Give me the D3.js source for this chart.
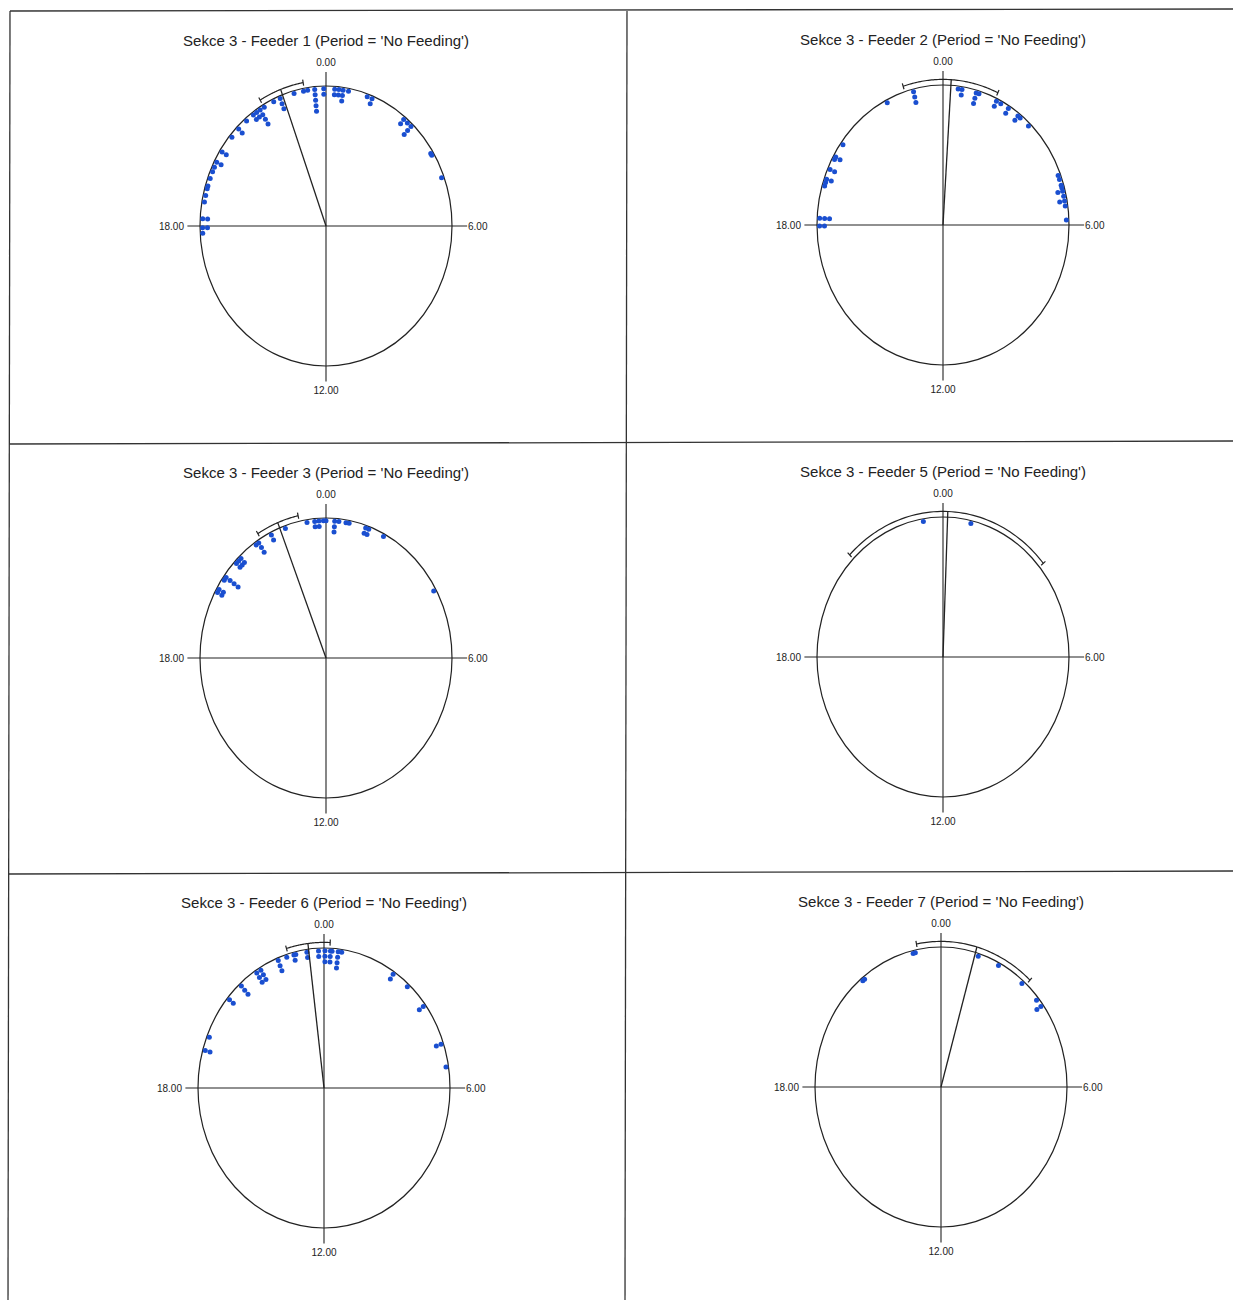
<!DOCTYPE html>
<html>
<head>
<meta charset="utf-8">
<script src="https://cdn.jsdelivr.net/npm/d3@7"></script>
<style>
  html, body { margin: 0; padding: 0; background: #fff; }
  svg { display: block; }
  text { font-family: "Liberation Sans", Arial, sans-serif; fill: #222; }
</style>
</head>
<body>
<svg id="chart" width="1233" height="1300"></svg>
<script>
// Panel titles, in reading order
const titles = [
  "Sekce 3 - Feeder 1 (Period = 'No Feeding')",
  "Sekce 3 - Feeder 2 (Period = 'No Feeding')",
  "Sekce 3 - Feeder 3 (Period = 'No Feeding')",
  "Sekce 3 - Feeder 5 (Period = 'No Feeding')",
  "Sekce 3 - Feeder 6 (Period = 'No Feeding')",
  "Sekce 3 - Feeder 7 (Period = 'No Feeding')"
];

// Visit times (hour of day); equal values stack inward from the rim
const feeder1 = [17.8, 17.95, 17.95, 18.2, 18.2, 18.67, 18.86, 19.05, 19.13, 19.35, 19.55, 19.69,
  19.85, 19.85, 20.18, 20.18, 20.69, 21.0, 21.0, 21.33, 21.6, 21.6, 21.72, 21.72, 21.85, 21.85,
  21.85, 21.85, 22.0, 22.33, 22.55, 22.55, 22.55, 23.0, 23.3, 23.43, 23.65, 23.65, 23.65, 23.65,
  23.65, 23.93, 23.93, 0.27, 0.27, 0.4, 0.4, 0.53, 0.53, 0.53, 0.7, 1.3, 1.46, 1.46, 2.6, 2.6,
  2.75, 2.9, 2.9, 2.9, 3.87, 3.93, 4.63];
const feeder2 = [17.97, 17.97, 18.19, 18.19, 18.19, 19.1, 19.2, 19.3, 19.3, 19.59, 19.59, 19.9,
  19.98, 19.98, 20.39, 22.21, 23.08, 23.08, 23.08, 0.47, 0.59, 0.59, 1.04, 1.04, 1.04, 1.13,
  1.71, 1.71, 1.86, 2.13, 2.13, 2.49, 2.49, 2.58, 2.92, 4.59, 4.71, 4.88, 4.95, 5.05, 5.05,
  5.19, 5.33, 5.33, 5.47, 5.86];
const feeder3 = [19.9, 19.9, 20.0, 20.0, 20.3, 20.4, 20.4, 20.4, 20.4, 20.9, 20.9, 21.0, 21.0,
  21.1, 21.1, 21.7, 21.8, 21.8, 21.8, 22.25, 22.25, 22.72, 23.41, 23.65, 23.65, 23.78, 23.78,
  23.92, 0.0, 0.27, 0.27, 0.27, 0.4, 0.62, 0.72, 1.25, 1.25, 1.35, 1.35, 1.85, 4.05];
const feeder5 = [23.39, 0.87];
const feeder6 = [19.06, 19.06, 19.45, 20.67, 20.67, 21.2, 21.2, 21.2, 21.8, 21.8, 21.8, 21.95,
  21.95, 21.95, 22.55, 22.55, 22.55, 22.83, 23.06, 23.06, 23.12, 23.47, 23.47, 23.83, 23.83,
  0.03, 0.03, 0.03, 0.2, 0.2, 0.2, 0.25, 0.44, 0.44, 0.44, 0.44, 0.55, 2.27, 2.27, 2.83, 3.57,
  3.57, 4.76, 4.76, 5.41];
const feeder7 = [21.38, 21.45, 23.13, 23.2, 1.17, 1.85, 2.73, 3.38, 3.6, 3.6];

const visitTimes = [feeder1, feeder2, feeder3, feeder5, feeder6, feeder7];

// Mean direction (hour) and its 95% confidence limits
const meanHour = [22.65, 0.24, 22.56, 0.14, 23.53, 1.06];
const ciLow    = [21.99, 22.82, 21.91, 20.97, 22.89, 23.28];
const ciHigh   = [23.33, 1.65, 23.18, 3.33, 0.18, 2.85];

// Clock labels at the four axis ends
const tickHours  = [0, 6, 12, 18];
const tickLabels = ["0.00", "6.00", "12.00", "18.00"];

const svg = d3.select("#chart");
const ink = "#222";
const dotColor = "#1a4fd0";

// Panel frame lines
const frame = [
  [10, 11, 1233, 9], [9, 444, 1233, 441], [8, 874, 1233, 871],
  [10, 11, 8, 1300], [627, 11, 625, 1300]
];
svg.append("g").selectAll("line").data(frame).join("line")
  .attr("x1", d => d[0]).attr("y1", d => d[1])
  .attr("x2", d => d[2]).attr("y2", d => d[3])
  .attr("stroke", "#333").attr("stroke-width", 1.3);

// Plot centres and radii (the rose is drawn slightly taller than wide)
const centres = [[326, 226], [943, 225], [326, 658], [943, 657], [324, 1088], [941, 1087]];
const rx = 126, ry = 140;

// Clock hour -> angle (clockwise from top)
const angle = d3.scaleLinear().domain([0, 24]).range([0, 2 * Math.PI]);
// Relative radius -> pixel (applied separately to x and y radii)
const rX = d3.scaleLinear().domain([0, 1]).range([0, rx]);
const rY = d3.scaleLinear().domain([0, 1]).range([0, ry]);

const dotStep = 5.2 / 133;   // radial spacing of stacked dots, relative
const dotStart = 2.7 / 133;  // first dot just inside the rim
const ciRadius = 1.04;

centres.forEach(([cx, cy], i) => {
  const g = svg.append("g");
  const pt = (h, f) => [cx + rX(f) * Math.sin(angle(h)), cy - rY(f) * Math.cos(angle(h))];

  // Title
  g.append("text")
    .attr("x", cx).attr("y", cy - 180)
    .attr("text-anchor", "middle")
    .attr("font-size", 15)
    .attr("textLength", 286).attr("lengthAdjust", "spacingAndGlyphs")
    .text(titles[i]);

  // Axes through the centre
  g.append("line").attr("x1", cx).attr("x2", cx)
    .attr("y1", cy - rY(1.1)).attr("y2", cy + rY(1.11))
    .attr("stroke", ink).attr("stroke-width", 1.1);
  g.append("line").attr("y1", cy).attr("y2", cy)
    .attr("x1", cx - rX(1.1)).attr("x2", cx + rX(1.12))
    .attr("stroke", ink).attr("stroke-width", 1.1);

  // Rim
  g.append("ellipse").attr("cx", cx).attr("cy", cy)
    .attr("rx", rX(1)).attr("ry", rY(1))
    .attr("fill", "none").attr("stroke", ink).attr("stroke-width", 1.2);

  // Hour labels
  tickHours.forEach((h, k) => {
    const t = g.append("text").attr("font-size", 10).text(tickLabels[k]);
    if (h === 0) t.attr("x", cx).attr("y", cy - 160).attr("text-anchor", "middle");
    else if (h === 12) t.attr("x", cx).attr("y", cy + 168).attr("text-anchor", "middle");
    else if (h === 6) t.attr("x", cx + 142).attr("y", cy + 3.5).attr("text-anchor", "start");
    else t.attr("x", cx - 142).attr("y", cy + 3.5).attr("text-anchor", "end");
  });

  // Stacked visit dots
  const stacks = d3.group(visitTimes[i], d => d);
  const dots = [];
  stacks.forEach((vals, h) => vals.forEach((v, j) => dots.push({ h, j })));
  g.append("g").selectAll("circle").data(dots).join("circle")
    .attr("cx", d => pt(d.h, 1 - dotStart - d.j * dotStep)[0])
    .attr("cy", d => pt(d.h, 1 - dotStart - d.j * dotStep)[1])
    .attr("r", 2.5)
    .attr("fill", dotColor);

  // Mean direction
  const m = pt(meanHour[i], ciRadius);
  g.append("line").attr("x1", cx).attr("y1", cy).attr("x2", m[0]).attr("y2", m[1])
    .attr("stroke", ink).attr("stroke-width", 1.3);

  // Confidence arc with end ticks
  let lo = ciLow[i], hi = ciHigh[i];
  if (hi < lo) hi += 24;
  const arcPts = d3.range(0, 61).map(k => pt(lo + (hi - lo) * k / 60, ciRadius));
  g.append("path").attr("d", d3.line()(arcPts))
    .attr("fill", "none").attr("stroke", ink).attr("stroke-width", 1.2);
  [lo, hi].forEach(h => {
    const a = pt(h, ciRadius - 0.022), b = pt(h, ciRadius + 0.022);
    g.append("line").attr("x1", a[0]).attr("y1", a[1]).attr("x2", b[0]).attr("y2", b[1])
      .attr("stroke", ink).attr("stroke-width", 1.2);
  });
});
</script>
</body>
</html>
